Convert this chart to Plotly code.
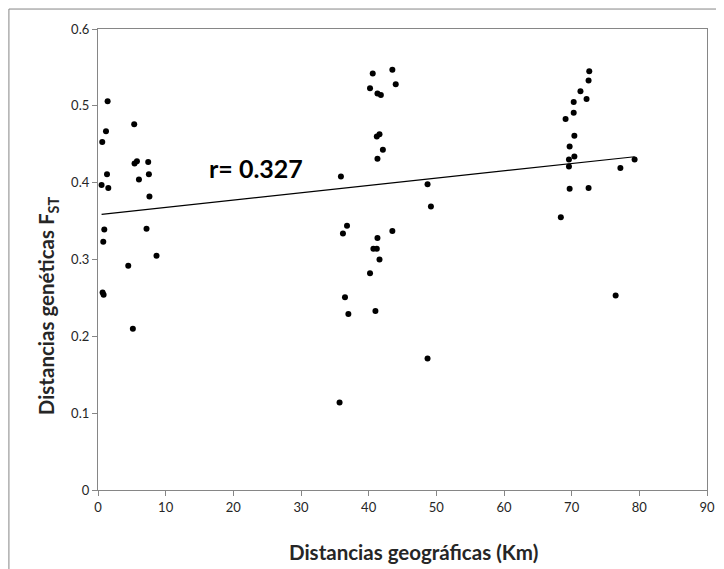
import numpy as np
import plotly.graph_objects as go

# Geographic distance (km)
dist_km = [
    1.42, 5.35, 1.18, 0.63, 5.40, 5.75, 7.42, 1.33, 7.52, 6.05, 0.53, 1.52, 7.60,
    0.93, 7.17, 0.78, 8.65, 4.47, 0.68, 0.83, 5.15,
    40.6, 43.5, 40.2, 44.0, 41.3, 41.8, 41.2, 41.6, 42.1, 41.3, 35.9, 48.7, 49.2,
    36.8, 36.2, 43.5, 41.3, 40.7, 41.2, 41.6, 40.2, 36.5, 37.0, 41.0, 48.7, 35.7,
    72.6, 72.5, 71.3, 72.2, 70.3, 70.3, 69.1, 70.4, 69.7, 70.4, 69.6, 69.6, 79.3,
    77.2, 69.7, 72.5, 68.4, 76.5,
]
# Genetic distance FST
fst = [
    0.506, 0.476, 0.467, 0.453, 0.425, 0.428, 0.427, 0.411, 0.411, 0.404, 0.397, 0.393, 0.382,
    0.339, 0.340, 0.323, 0.305, 0.292, 0.257, 0.254, 0.210,
    0.542, 0.547, 0.523, 0.528, 0.516, 0.514, 0.460, 0.463, 0.443, 0.431, 0.408, 0.398, 0.369,
    0.344, 0.334, 0.337, 0.328, 0.314, 0.314, 0.300, 0.282, 0.251, 0.229, 0.233, 0.171, 0.114,
    0.545, 0.533, 0.519, 0.509, 0.505, 0.491, 0.483, 0.461, 0.447, 0.434, 0.430, 0.421, 0.430,
    0.419, 0.392, 0.393, 0.355, 0.253,
]
x_ticks = [0, 10, 20, 30, 40, 50, 60, 70, 80, 90]
y_ticks = [0, 0.1, 0.2, 0.3, 0.4, 0.5, 0.6]
y_tick_labels = ["0", "0.1", "0.2", "0.3", "0.4", "0.5", "0.6"]
r_label = "r= 0.327"
x_title = "Distancias geográficas (Km)"
y_title = "Distancias genéticas F<sub>ST</sub>"

x = np.array(dist_km)
y = np.array(fst)
slope, intercept = np.polyfit(x, y, 1)
tx = np.array([x.min(), x.max()])
ty = intercept + slope * tx

FONT = "Lato, 'Open Sans', sans-serif"
GRAY = "#868686"
TXT = "#262626"

fig = go.Figure()
fig.add_trace(go.Scatter(x=tx, y=ty, mode="lines",
                         line=dict(color="black", width=1.2), hoverinfo="skip"))
fig.add_trace(go.Scatter(x=x, y=y, mode="markers",
                         marker=dict(color="black", size=6)))

# page has an 8px body margin, so the figure is shrunk by 8px
OFF = 8
W, H = 724 - OFF, 569 - OFF
L, R, T, B = 97.7 - OFF, 16.5, 28.5 - OFF, 78.5
pw, ph = W - L - R, H - T - B

def px_x(p):  # p in page pixels
    return (p - OFF - L) / pw

def px_y(p):
    return (H - B - (p - OFF)) / ph

fig.add_shape(type="rect", xref="paper", yref="paper",
              x0=px_x(8.5), x1=px_x(760), y0=px_y(620), y1=px_y(8.5),
              line=dict(color=GRAY, width=1), fillcolor="rgba(0,0,0,0)", layer="below")

fig.add_annotation(x=px_x(256), y=px_y(168), xref="paper", yref="paper",
                   xanchor="center", yanchor="middle",
                   text="<b>" + r_label + "</b>", showarrow=False,
                   font=dict(family=FONT, size=25, color="black"))

fig.add_annotation(x=px_x(414), y=px_y(553), xref="paper", yref="paper",
                   xanchor="center", yanchor="middle",
                   text="<b>" + x_title + "</b>", showarrow=False,
                   font=dict(family=FONT, size=20.5, color=TXT))

fig.add_annotation(x=px_x(48), y=px_y(306), xref="paper", yref="paper",
                   xanchor="center", yanchor="middle", textangle=-90,
                   text="<b>" + y_title + "</b>", showarrow=False,
                   font=dict(family=FONT, size=20.5, color=TXT))

fig.update_layout(
    width=W, height=H,
    margin=dict(l=L, r=R, t=T, b=B, pad=0, autoexpand=False),
    paper_bgcolor="white", plot_bgcolor="white",
    showlegend=False,
    font=dict(family=FONT, size=13, color=TXT),
    xaxis=dict(range=[0, 90], tickvals=x_ticks, ticks="outside", ticklen=5,
               tickcolor=GRAY, showline=True, linecolor=GRAY, linewidth=1.3,
               mirror=True, showgrid=False, zeroline=False, automargin=False,
               tickfont=dict(family=FONT, size=13, color=TXT)),
    yaxis=dict(range=[0, 0.6], tickvals=y_ticks, ticktext=y_tick_labels,
               ticks="outside", ticklen=5, tickcolor=GRAY,
               showline=True, linecolor=GRAY, linewidth=1.3, mirror=True,
               showgrid=False, zeroline=False, automargin=False,
               tickfont=dict(family=FONT, size=13, color=TXT)),
)

fig.write_html("out.html")
